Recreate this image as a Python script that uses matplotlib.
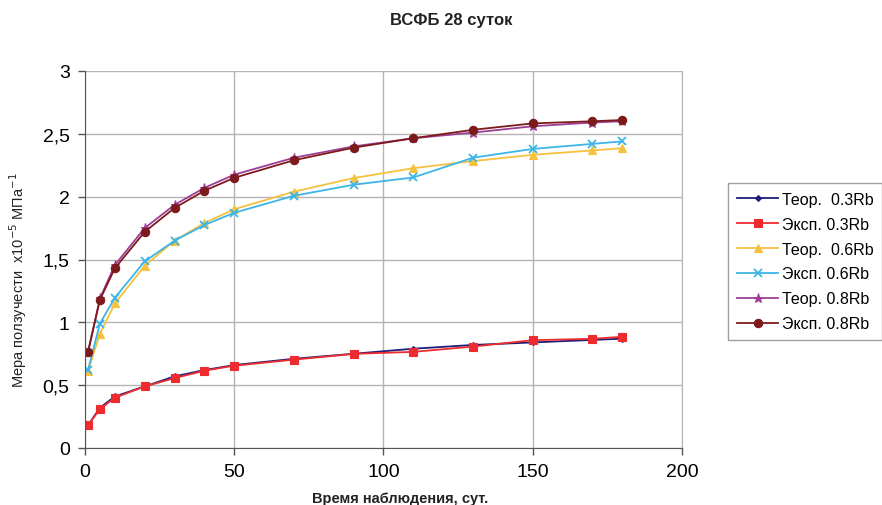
import numpy as np
import matplotlib.pyplot as plt
from matplotlib.ticker import FuncFormatter

plt.rcParams['font.family'] = ['Liberation Sans', 'DejaVu Sans']

# days of observation
days = [1, 5, 10, 20, 30, 40, 50, 70, 90, 110, 130, 150, 170, 180]

teor_03 = [0.18, 0.32, 0.41, 0.49, 0.57, 0.62, 0.66, 0.71, 0.75, 0.79, 0.82, 0.84, 0.86, 0.87]
eksp_03 = [0.18, 0.31, 0.40, 0.49, 0.556, 0.615, 0.655, 0.703, 0.749, 0.765, 0.807, 0.858, 0.869, 0.885]
teor_06 = [0.61, 0.91, 1.15, 1.45, 1.65, 1.79, 1.90, 2.04, 2.148, 2.227, 2.283, 2.333, 2.368, 2.386]
eksp_06 = [0.62, 0.99, 1.196, 1.485, 1.65, 1.774, 1.872, 2.007, 2.095, 2.153, 2.31, 2.38, 2.42, 2.44]
teor_08 = [0.76, 1.19, 1.456, 1.75, 1.935, 2.07, 2.175, 2.31, 2.40, 2.465, 2.51, 2.56, 2.59, 2.60]
eksp_08 = [0.766, 1.18, 1.43, 1.72, 1.91, 2.047, 2.15, 2.29, 2.39, 2.465, 2.532, 2.583, 2.60, 2.61]

labels = ['Теор.  0.3Rb', 'Эксп. 0.3Rb', 'Теор.  0.6Rb', 'Эксп. 0.6Rb', 'Теор. 0.8Rb', 'Эксп. 0.8Rb']
series = [teor_03, eksp_03, teor_06, eksp_06, teor_08, eksp_08]
colors = ['#1E1E78', '#EE2B2E', '#F6C13E', '#3DB5E6', '#9C3E96', '#7D1A1C']
markers = ['D', 's', '^', 'x', '*', 'o']
msizes = [3, 5.5, 5.5, 5.5, 6.5, 6]

fig = plt.figure(figsize=(8.82, 5.06), dpi=100)
ax = fig.add_axes([85 / 882, 1 - 449 / 506, (682 - 85) / 882, (449 - 72) / 506])

for ys, lab, c, mk, ms in zip(series, labels, colors, markers, msizes):
    ax.plot(days, ys, color=c, marker=mk, markersize=ms, linewidth=1.3,
            markeredgewidth=1.3 if mk == 'x' else 0.8, label=lab)

ax.set_xlim(0, 200)
ax.set_ylim(0, 3)
ax.set_xticks([0, 50, 100, 150, 200])
ax.set_yticks(np.arange(0, 3.01, 0.5))
ax.yaxis.set_major_formatter(FuncFormatter(lambda v, p: ('%g' % v).replace('.', ',')))
ax.grid(True, color='#B4B4B4', linewidth=1)
ax.set_axisbelow(True)
ax.tick_params(labelsize=14, color='#555555', length=5, width=1, pad=6)
for s in ['left', 'bottom']:
    ax.spines[s].set_color('#555555')
ax.spines['right'].set_color('#B4B4B4')
ax.spines['top'].set_visible(False)

fig.text(451 / 882, 1 - 21 / 506, 'ВСФБ 28 суток', ha='center', va='center',
         fontsize=12, fontweight='bold', color='#222222')
fig.text(400 / 882, 1 - 499 / 506, 'Время наблюдения, сут.', ha='center', va='center',
         fontsize=10.5, fontweight='bold', color='#222222')
fig.text(18 / 882, 1 - 280 / 506, 'Мера ползучести  x10$^{-5}$ МПа$^{-1}$', ha='center',
         va='center', rotation=90, fontsize=10.5, color='#222222')

leg = fig.legend(loc='upper left', bbox_to_anchor=(728 / 882, 1 - 184 / 506),
                 fontsize=11.5, frameon=True, fancybox=False, edgecolor='#888888',
                 borderpad=0.55, labelspacing=0.62, handlelength=2.6, handletextpad=0.2,
                 borderaxespad=0)
leg.get_frame().set_linewidth(1)

fig.savefig('out.png', dpi=100)
